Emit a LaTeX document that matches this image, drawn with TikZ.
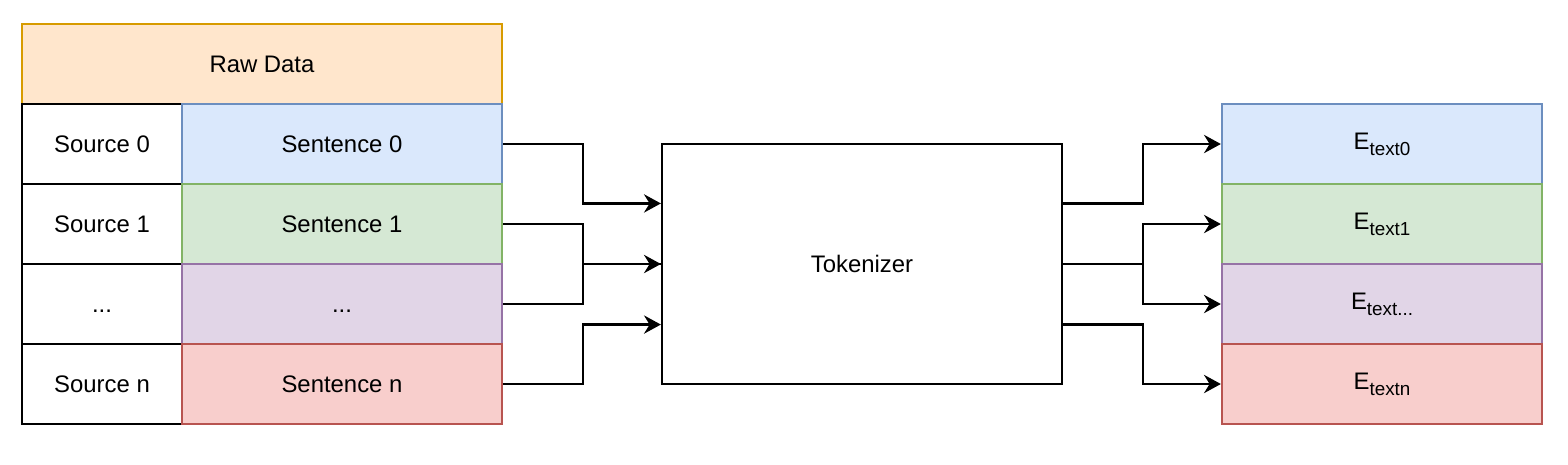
\documentclass[tikz,border=0pt]{standalone}
\usepackage{fontspec}
\setmainfont{Liberation Sans}
\usetikzlibrary{arrows.meta,calc}
\definecolor{rawfill}{HTML}{FFE6CC}\definecolor{rawline}{HTML}{D79B00}
\definecolor{bluefill}{HTML}{DAE8FC}\definecolor{blueline}{HTML}{6C8EBF}
\definecolor{greenfill}{HTML}{D5E8D4}\definecolor{greenline}{HTML}{82B366}
\definecolor{purplefill}{HTML}{E1D5E7}\definecolor{purpleline}{HTML}{9673A6}
\definecolor{redfill}{HTML}{F8CECC}\definecolor{redline}{HTML}{B85450}
\newcommand{\embtext}[1]{E\raisebox{-2.1pt}{\fontsize{6.7}{7}\selectfont text#1}}
\begin{document}
\begin{tikzpicture}[font=\fontsize{8.5}{10}\selectfont,
    cell/.style = {draw,line width=0.8pt,minimum height=1cm,inner sep=0pt},
    srccell/.style = {cell,minimum width=2cm},
    sentcell/.style = {cell,minimum width=4cm},
    arrow/.style = {line width=0.8pt,-{Stealth[length=6pt,width=6.5pt,inset=2pt]}},
    link/.style = {line width=0.8pt}]
                \useasboundingbox (0,0) rectangle (19.6,-5.8);

                % left table
                \node[cell,minimum width=6cm,fill=rawfill,draw=rawline] (raw) at (3.275,-0.8) {Raw Data};
                \node[srccell] (src0) at (1.275,-1.8) {Source 0};
                \node[srccell] (src1) at (1.275,-2.8) {Source 1};
                \node[srccell] (src2) at (1.275,-3.8) {\vphantom{S}...};
                \node[srccell] (srcn) at (1.275,-4.8) {Source n};
                \node[sentcell,fill=bluefill,draw=blueline] (sent0) at (4.275,-1.8) {Sentence 0};
                \node[sentcell,fill=greenfill,draw=greenline] (sent1) at (4.275,-2.8) {Sentence 1};
                \node[sentcell,fill=purplefill,draw=purpleline] (sent2) at (4.275,-3.8) {\vphantom{S}...};
                \node[sentcell,fill=redfill,draw=redline] (sentn) at (4.275,-4.8) {Sentence n};

                % tokenizer
                \node[cell,minimum width=5cm,minimum height=3cm] (tok) at (10.775,-3.3) {Tokenizer};
                \coordinate (tokin0) at ($(tok.north west)!0.25!(tok.south west)$);
                \coordinate (tokin1) at (tok.west);
                \coordinate (tokinn) at ($(tok.north west)!0.75!(tok.south west)$);
                \coordinate (tokout0) at ($(tok.north east)!0.25!(tok.south east)$);
                \coordinate (tokout1) at (tok.east);
                \coordinate (tokoutn) at ($(tok.north east)!0.75!(tok.south east)$);

                % right column
                \node[sentcell,fill=bluefill,draw=blueline] (emb0) at (17.275,-1.8) {\embtext{0}};
                \node[sentcell,fill=greenfill,draw=greenline] (emb1) at (17.275,-2.8) {\embtext{1}};
                \node[sentcell,fill=purplefill,draw=purpleline] (emb2) at (17.275,-3.8) {\embtext{...}};
                \node[sentcell,fill=redfill,draw=redline] (embn) at (17.275,-4.8) {\embtext{n}};

                % inputs
                \draw[arrow] (sent0.east) -- ++(1,0) |- (tokin0);
                \draw[arrow] (sent1.east) -- ++(1,0) |- (tokin1);
                \draw[link] (sent2.east) -- ++(1,0) |- (tokin1);
                \draw[arrow] (sentn.east) -- ++(1,0) |- (tokinn);

                % outputs
                \draw[arrow] (tokout0) -- ++(1,0) |- (emb0.west);
                \draw[arrow] (tokout1) -- ++(1,0) |- (emb1.west);
                \draw[arrow] (tokout1) -- ++(1,0) |- (emb2.west);
                \draw[arrow] (tokoutn) -- ++(1,0) |- (embn.west);
            \end{tikzpicture}
\end{document}
